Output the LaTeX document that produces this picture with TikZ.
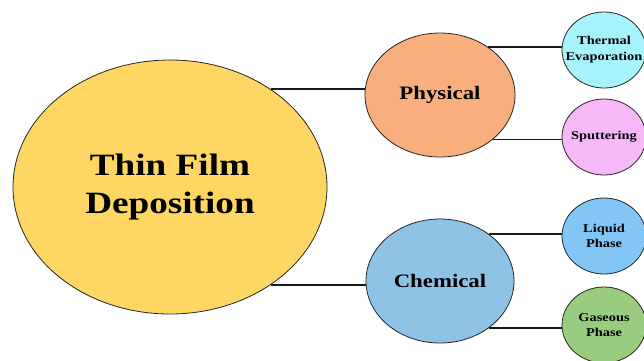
\documentclass[tikz,border=0pt]{standalone}
\usepackage{fontspec}
\setmainfont{Liberation Serif}[FakeStretch=1.2]
\usetikzlibrary{shapes.geometric}
\definecolor{cbig}{HTML}{FDD663}
\definecolor{cphys}{HTML}{F9AE7E}
\definecolor{ctherm}{HTML}{A6F3FC}
\definecolor{csput}{HTML}{F7B8F7}
\definecolor{cchem}{HTML}{8EC3E6}
\definecolor{cliq}{HTML}{82C6F7}
\definecolor{cgas}{HTML}{9ACC80}
\tikzset{
  bub/.style={ellipse, draw=black!85, line width=0.8pt, inner sep=0pt},
  txt/.style={align=center, font=\bfseries\fontsize{#1}{#1*1.25}\selectfont},
  conn/.style={draw=black!90, line width=1.8pt},
}
\begin{document}
\begin{tikzpicture}[x=1pt,y=-1pt]
\useasboundingbox (0,0) rectangle (644,360);
\node[bub, fill=cbig, minimum width=314pt, minimum height=254pt,
  label={[align=center, font=\bfseries\fontsize{31}{38}\selectfont]center:Thin Film\\Deposition}] (big) at (170,187) {};
\node[bub, fill=cphys, minimum width=150pt, minimum height=124pt,
  label={[font=\bfseries\fontsize{19}{22}\selectfont]center:Physical}] (phys) at (440,95) {};
\node[bub, fill=cchem, minimum width=148pt, minimum height=124pt,
  label={[font=\bfseries\fontsize{19}{22}\selectfont]center:Chemical}] (chem) at (440,281) {};
\node[bub, fill=ctherm, minimum width=84pt, minimum height=76pt,
  label={[align=center, font=\bfseries\fontsize{12}{16}\selectfont]center:Thermal\\Evaporation}] (therm) at (604,50) {};
\node[bub, fill=csput, minimum width=84pt, minimum height=76pt,
  label={[font=\bfseries\fontsize{12}{16}\selectfont]center:Sputtering}] (sput) at (604,137) {};
\node[bub, fill=cliq, minimum width=84pt, minimum height=76pt,
  label={[align=center, font=\bfseries\fontsize{12}{15}\selectfont]center:Liquid\\Phase}] (liq) at (604,236) {};
\node[bub, fill=cgas, minimum width=84pt, minimum height=76pt,
  label={[align=center, font=\bfseries\fontsize{12}{15}\selectfont]center:Gaseous\\Phase}] (gas) at (604,325) {};
\draw[conn] (big.44) -- (big.44 -| phys.west);
\draw[conn] (big.-44) -- (big.-44 -| chem.west);
\draw[conn] (phys.45) -- (phys.45 -| therm.west);
\draw[conn] (phys.-40) -- (phys.-40 -| sput.west);
\draw[conn] (chem.44) -- (chem.44 -| liq.west);
\draw[conn] (chem.-44) -- (chem.-44 -| gas.west);
\end{tikzpicture}
\end{document}
